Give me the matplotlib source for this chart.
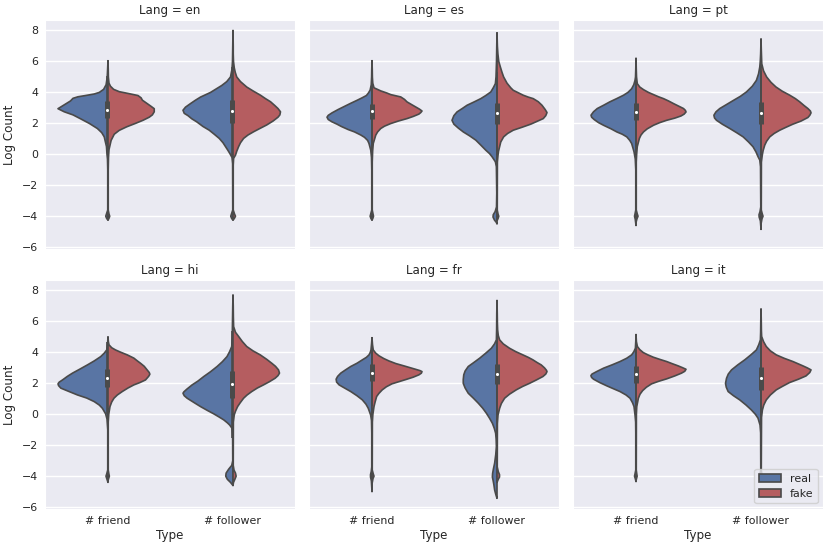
import numpy as np
import matplotlib
matplotlib.use('Agg')
import matplotlib.pyplot as plt
import seaborn as sns
from matplotlib.patches import Patch

langs = ['en', 'es', 'pt', 'hi', 'fr', 'it']
types = ['# friend', '# follower']
hues = ['real', 'fake']

# half-violin outlines: (log count, half width)
real_friend = {
    'en': [(6.05, 0), (5.5, 0.003), (5.0, 0.006), (4.5, 0.015), (4.2, 0.035), (4.0, 0.07), (3.9, 0.11),
           (3.8, 0.18), (3.72, 0.24), (3.62, 0.28), (3.45, 0.30), (3.2, 0.35), (2.95, 0.40), (2.75, 0.35),
           (2.55, 0.28), (2.3, 0.22), (2.0, 0.15), (1.67, 0.085), (1.4, 0.05), (1.13, 0.03), (0.5, 0.012),
           (0.0, 0.008), (-0.3, 0.004), (-1.0, 0.002), (-3.6, 0.002), (-3.85, 0.012), (-4.0, 0.018),
           (-4.15, 0.01), (-4.25, 0)],
    'es': [(6.05, 0), (5.5, 0.002), (5.0, 0.003), (4.5, 0.006), (4.15, 0.015), (3.95, 0.03), (3.8, 0.045),
           (3.65, 0.08), (3.49, 0.12), (3.3, 0.17), (3.1, 0.22), (2.9, 0.27), (2.68, 0.32), (2.52, 0.35),
           (2.4, 0.36), (2.25, 0.35), (2.1, 0.32), (1.95, 0.28), (1.8, 0.245), (1.6, 0.19), (1.45, 0.14),
           (1.25, 0.09), (1.1, 0.06), (0.9, 0.035), (0.7, 0.024), (0.27, 0.01), (-0.2, 0.004), (-1.0, 0.002),
           (-3.6, 0.002), (-3.85, 0.01), (-4.0, 0.015), (-4.15, 0.008), (-4.25, 0)],
    'pt': [(6.2, 0), (5.5, 0.002), (5.0, 0.004), (4.78, 0.008), (4.5, 0.018), (4.24, 0.035), (4.0, 0.065),
           (3.82, 0.10), (3.6, 0.155), (3.39, 0.21), (3.17, 0.26), (2.96, 0.31), (2.75, 0.34), (2.53, 0.36),
           (2.4, 0.355), (2.25, 0.335), (2.05, 0.30), (1.88, 0.26), (1.65, 0.20), (1.45, 0.154), (1.3, 0.11),
           (1.13, 0.074), (0.9, 0.05), (0.7, 0.035), (0.17, 0.016), (-0.3, 0.006), (-1.0, 0.002),
           (-3.6, 0.002), (-3.85, 0.008), (-4.0, 0.012), (-4.2, 0.006), (-4.6, 0)],
    'hi': [(5.0, 0), (4.6, 0.003), (4.16, 0.01), (3.95, 0.03), (3.73, 0.058), (3.45, 0.11), (3.19, 0.165),
           (2.92, 0.225), (2.66, 0.284), (2.45, 0.325), (2.22, 0.364), (2.08, 0.39), (1.97, 0.40),
           (1.85, 0.395), (1.69, 0.377), (1.5, 0.32), (1.25, 0.244), (1.05, 0.17), (0.82, 0.11), (0.6, 0.07),
           (0.39, 0.045), (0.03, 0.019), (-0.3, 0.008), (-1.0, 0.002), (-3.6, 0.002), (-3.85, 0.01),
           (-4.0, 0.016), (-4.2, 0.008), (-4.4, 0)],
    'fr': [(4.95, 0), (4.6, 0.003), (4.16, 0.008), (4.0, 0.014), (3.84, 0.024), (3.68, 0.045), (3.52, 0.077),
           (3.3, 0.12), (3.09, 0.17), (2.88, 0.21), (2.66, 0.25), (2.45, 0.275), (2.27, 0.287), (2.08, 0.283),
           (1.9, 0.263), (1.7, 0.22), (1.47, 0.17), (1.2, 0.12), (0.93, 0.077), (0.65, 0.048), (0.39, 0.03),
           (-0.04, 0.011), (-0.4, 0.004), (-1.2, 0.002), (-3.4, 0.002), (-3.7, 0.006), (-3.9, 0.012),
           (-4.05, 0.012), (-4.3, 0.005), (-5.0, 0)],
    'it': [(5.15, 0), (4.7, 0.002), (4.27, 0.005), (4.05, 0.017), (3.84, 0.035), (3.62, 0.075), (3.41, 0.128),
           (3.2, 0.19), (2.98, 0.26), (2.76, 0.315), (2.6, 0.352), (2.5, 0.361), (2.38, 0.355), (2.27, 0.34),
           (2.05, 0.29), (1.84, 0.234), (1.65, 0.18), (1.47, 0.128), (1.25, 0.08), (1.04, 0.048), (0.75, 0.028),
           (0.5, 0.016), (-0.04, 0.008), (-0.5, 0.003), (-1.2, 0.002), (-3.6, 0.002), (-3.85, 0.008),
           (-4.0, 0.012), (-4.15, 0.006), (-4.35, 0)],
}

fake_friend = {
    'en': [(6.05, 0), (5.5, 0.002), (5.0, 0.003), (4.6, 0.008), (4.4, 0.02), (4.2, 0.045), (4.05, 0.09),
           (3.92, 0.17), (3.8, 0.24), (3.65, 0.265), (3.5, 0.275), (3.3, 0.31), (3.1, 0.345), (2.95, 0.37),
           (2.75, 0.37), (2.55, 0.355), (2.4, 0.33), (2.2, 0.28), (2.0, 0.22), (1.78, 0.15), (1.55, 0.09),
           (1.3, 0.05), (0.9, 0.025), (0.3, 0.008), (-0.2, 0.004), (-1.0, 0.002), (-3.6, 0.002),
           (-3.85, 0.008), (-4.0, 0.014), (-4.15, 0.007), (-4.25, 0)],
    'es': [(6.05, 0), (5.5, 0.002), (5.0, 0.003), (4.6, 0.006), (4.3, 0.016), (4.1, 0.07), (3.96, 0.12),
           (3.86, 0.15), (3.71, 0.23), (3.55, 0.26), (3.39, 0.28), (3.2, 0.32), (3.06, 0.35), (2.92, 0.38),
           (2.8, 0.40), (2.7, 0.39), (2.6, 0.375), (2.45, 0.33), (2.31, 0.28), (2.15, 0.21), (1.99, 0.15),
           (1.82, 0.10), (1.67, 0.07), (1.45, 0.045), (1.24, 0.03), (0.7, 0.01), (0.2, 0.005), (-0.5, 0.002),
           (-3.6, 0.002), (-3.85, 0.008), (-4.0, 0.012), (-4.15, 0.006), (-4.25, 0)],
    'pt': [(6.2, 0), (5.5, 0.002), (5.0, 0.004), (4.57, 0.01), (4.35, 0.03), (4.18, 0.06), (4.0, 0.10),
           (3.86, 0.14), (3.72, 0.18), (3.6, 0.22), (3.45, 0.26), (3.28, 0.30), (3.12, 0.34), (2.96, 0.38),
           (2.84, 0.395), (2.74, 0.40), (2.6, 0.385), (2.48, 0.36), (2.34, 0.31), (2.2, 0.245), (2.05, 0.19),
           (1.88, 0.14), (1.65, 0.09), (1.45, 0.06), (1.25, 0.04), (1.03, 0.027), (0.5, 0.01), (0.0, 0.005),
           (-0.5, 0.002), (-3.6, 0.002), (-3.85, 0.01), (-4.0, 0.016), (-4.15, 0.008), (-4.4, 0)],
    'hi': [(5.0, 0), (4.7, 0.003), (4.49, 0.008), (4.3, 0.03), (4.16, 0.06), (4.0, 0.105), (3.84, 0.154),
           (3.63, 0.207), (3.45, 0.235), (3.3, 0.26), (3.1, 0.29), (2.87, 0.313), (2.7, 0.33), (2.59, 0.335),
           (2.45, 0.325), (2.22, 0.30), (2.05, 0.255), (1.9, 0.207), (1.7, 0.16), (1.47, 0.114), (1.25, 0.075),
           (1.04, 0.048), (0.8, 0.03), (0.5, 0.016), (0.0, 0.006), (-0.5, 0.002), (-3.6, 0.002),
           (-3.85, 0.007), (-4.0, 0.011), (-4.15, 0.005), (-4.3, 0)],
    'fr': [(4.95, 0), (4.5, 0.004), (4.16, 0.01), (3.95, 0.03), (3.78, 0.056), (3.6, 0.095), (3.45, 0.135),
           (3.28, 0.19), (3.13, 0.255), (3.0, 0.31), (2.91, 0.348), (2.82, 0.385), (2.76, 0.40), (2.66, 0.395),
           (2.55, 0.375), (2.4, 0.33), (2.27, 0.28), (2.12, 0.22), (1.97, 0.16), (1.78, 0.115), (1.58, 0.082),
           (1.35, 0.055), (1.15, 0.037), (0.8, 0.025), (0.5, 0.016), (0.0, 0.007), (-0.5, 0.003),
           (-3.6, 0.002), (-3.85, 0.01), (-4.0, 0.016), (-4.15, 0.008), (-4.5, 0)],
    'it': [(5.15, 0), (4.7, 0.003), (4.38, 0.011), (4.18, 0.03), (3.99, 0.058), (3.84, 0.095), (3.69, 0.138),
           (3.55, 0.19), (3.41, 0.245), (3.27, 0.29), (3.13, 0.337), (3.02, 0.37), (2.91, 0.40), (2.78, 0.39),
           (2.66, 0.364), (2.48, 0.31), (2.29, 0.245), (2.13, 0.18), (1.97, 0.125), (1.75, 0.083),
           (1.53, 0.053), (1.3, 0.032), (1.04, 0.019), (0.5, 0.006), (0.0, 0.003), (-3.6, 0.002),
           (-3.85, 0.006), (-4.0, 0.009), (-4.15, 0.004), (-4.3, 0)],
}

real_follower = {
    'en': [(8.0, 0), (7.0, 0.002), (6.0, 0.004), (5.5, 0.008), (5.0, 0.02), (4.7, 0.05), (4.45, 0.09),
           (4.2, 0.14), (4.0, 0.18), (3.7, 0.26), (3.5, 0.30), (3.28, 0.34), (3.05, 0.38), (2.85, 0.40),
           (2.65, 0.39), (2.5, 0.36), (2.3, 0.33), (2.1, 0.29), (1.8, 0.24), (1.56, 0.19), (1.3, 0.15),
           (1.03, 0.11), (0.75, 0.08), (0.5, 0.06), (0.25, 0.04), (0.05, 0.025), (-0.2, 0.008), (-0.6, 0.003),
           (-3.6, 0.002), (-3.85, 0.012), (-4.0, 0.018), (-4.15, 0.01), (-4.25, 0)],
    'es': [(7.85, 0), (7.0, 0.002), (6.0, 0.004), (5.0, 0.008), (4.57, 0.013), (4.3, 0.03), (4.03, 0.05),
           (3.8, 0.09), (3.6, 0.13), (3.4, 0.18), (3.17, 0.24), (2.95, 0.28), (2.74, 0.32), (2.5, 0.345),
           (2.2, 0.36), (1.95, 0.345), (1.7, 0.31), (1.45, 0.27), (1.2, 0.22), (0.92, 0.17), (0.6, 0.13),
           (0.27, 0.09), (0.05, 0.06), (-0.15, 0.04), (-0.48, 0.013), (-0.8, 0.005), (-2.5, 0.002),
           (-3.4, 0.004), (-3.7, 0.015), (-3.9, 0.03), (-4.05, 0.032), (-4.25, 0.02), (-4.4, 0.005),
           (-4.5, 0)],
    'pt': [(7.45, 0), (6.5, 0.003), (6.0, 0.006), (5.64, 0.01), (5.2, 0.02), (4.78, 0.037), (4.4, 0.07),
           (4.03, 0.117), (3.75, 0.165), (3.49, 0.22), (3.2, 0.28), (2.96, 0.33), (2.75, 0.36), (2.53, 0.377),
           (2.35, 0.372), (2.2, 0.356), (1.95, 0.31), (1.67, 0.25), (1.4, 0.195), (1.13, 0.143), (0.8, 0.10),
           (0.49, 0.064), (0.15, 0.04), (-0.15, 0.024), (-0.37, 0.01), (-0.8, 0.004), (-3.4, 0.002),
           (-3.7, 0.008), (-3.9, 0.016), (-4.05, 0.015), (-4.3, 0.005), (-4.85, 0)],
    'hi': [(7.7, 0), (7.0, 0.002), (6.0, 0.004), (5.0, 0.006), (4.38, 0.01), (4.05, 0.027), (3.73, 0.048),
           (3.4, 0.085), (3.09, 0.127), (2.75, 0.18), (2.44, 0.234), (2.15, 0.28), (1.9, 0.327), (1.62, 0.37),
           (1.45, 0.393), (1.36, 0.40), (1.2, 0.39), (1.04, 0.367), (0.75, 0.31), (0.5, 0.26), (0.25, 0.205),
           (0.03, 0.154), (-0.18, 0.11), (-0.36, 0.074), (-0.55, 0.045), (-0.69, 0.027), (-0.9, 0.008),
           (-1.3, 0.003), (-3.0, 0.002), (-3.3, 0.01), (-3.55, 0.035), (-3.8, 0.055), (-4.0, 0.058),
           (-4.2, 0.045), (-4.4, 0.02), (-4.6, 0)],
    'fr': [(7.35, 0), (6.5, 0.002), (5.5, 0.003), (4.81, 0.005), (4.55, 0.02), (4.27, 0.045), (3.95, 0.09),
           (3.63, 0.138), (3.35, 0.185), (3.09, 0.23), (2.8, 0.255), (2.55, 0.266), (2.25, 0.27), (2.0, 0.27),
           (1.7, 0.255), (1.36, 0.23), (1.05, 0.19), (0.72, 0.15), (0.4, 0.115), (0.07, 0.085), (-0.25, 0.06),
           (-0.58, 0.037), (-0.9, 0.022), (-1.22, 0.011), (-1.6, 0.007), (-2.08, 0.005), (-2.6, 0.01),
           (-3.16, 0.019), (-3.5, 0.028), (-3.81, 0.035), (-4.05, 0.037), (-4.24, 0.032), (-4.55, 0.025),
           (-4.89, 0.019), (-5.2, 0.009), (-5.43, 0)],
    'it': [(6.8, 0), (6.0, 0.002), (5.3, 0.003), (4.81, 0.005), (4.5, 0.018), (4.16, 0.037), (3.85, 0.08),
           (3.52, 0.13), (3.2, 0.185), (2.87, 0.236), (2.6, 0.262), (2.33, 0.276), (2.0, 0.284), (1.75, 0.278),
           (1.47, 0.263), (1.2, 0.22), (0.93, 0.17), (0.6, 0.12), (0.28, 0.077), (0.0, 0.045), (-0.25, 0.024),
           (-0.69, 0.008), (-1.2, 0.003), (-3.6, 0.002), (-3.85, 0.008), (-4.0, 0.012), (-4.15, 0.006),
           (-4.3, 0)],
}

fake_follower = {
    'en': [(8.0, 0), (7.0, 0.002), (6.5, 0.002), (6.0, 0.004), (5.6, 0.01), (5.3, 0.018), (5.0, 0.03),
           (4.7, 0.06), (4.35, 0.11), (4.1, 0.16), (3.82, 0.22), (3.6, 0.26), (3.4, 0.30), (3.15, 0.335),
           (2.96, 0.36), (2.75, 0.38), (2.55, 0.375), (2.4, 0.36), (2.15, 0.32), (1.9, 0.27), (1.65, 0.21),
           (1.46, 0.165), (1.25, 0.12), (1.03, 0.085), (0.75, 0.06), (0.5, 0.045), (0.2, 0.03), (-0.05, 0.02),
           (-0.26, 0.005), (-0.7, 0.002), (-3.6, 0.002), (-3.85, 0.012), (-4.0, 0.02), (-4.15, 0.01),
           (-4.25, 0)],
    'es': [(7.85, 0), (7.0, 0.003), (6.5, 0.007), (6.0, 0.014), (5.64, 0.027), (5.3, 0.04), (5.0, 0.053),
           (4.6, 0.08), (4.3, 0.11), (4.14, 0.13), (3.98, 0.17), (3.82, 0.21), (3.7, 0.25), (3.6, 0.29),
           (3.4, 0.33), (3.17, 0.36), (2.9, 0.385), (2.7, 0.40), (2.5, 0.39), (2.31, 0.37), (2.13, 0.32),
           (1.95, 0.27), (1.75, 0.20), (1.56, 0.13), (1.35, 0.085), (1.13, 0.053), (0.8, 0.03), (0.5, 0.021),
           (0.2, 0.012), (-0.05, 0.008), (-0.5, 0.003), (-3.6, 0.002), (-3.85, 0.008), (-4.0, 0.014),
           (-4.15, 0.008), (-4.3, 0)],
    'pt': [(7.45, 0), (6.8, 0.002), (6.3, 0.004), (5.85, 0.006), (5.4, 0.02), (5.0, 0.045), (4.65, 0.08),
           (4.35, 0.12), (4.08, 0.17), (3.82, 0.23), (3.6, 0.275), (3.39, 0.31), (3.15, 0.345), (2.96, 0.375),
           (2.8, 0.395), (2.68, 0.40), (2.52, 0.39), (2.38, 0.375), (2.15, 0.32), (1.95, 0.255), (1.75, 0.20),
           (1.56, 0.15), (1.35, 0.105), (1.13, 0.07), (0.85, 0.045), (0.6, 0.03), (0.25, 0.017), (-0.05, 0.01),
           (-0.5, 0.003), (-3.6, 0.002), (-3.85, 0.01), (-4.0, 0.016), (-4.15, 0.008), (-4.5, 0)],
    'hi': [(7.7, 0), (7.0, 0.002), (6.3, 0.003), (5.67, 0.005), (5.3, 0.02), (5.03, 0.045), (4.7, 0.075),
           (4.38, 0.11), (4.1, 0.16), (3.84, 0.218), (3.55, 0.27), (3.3, 0.31), (3.1, 0.34), (2.87, 0.364),
           (2.66, 0.372), (2.5, 0.36), (2.33, 0.337), (2.1, 0.29), (1.9, 0.244), (1.7, 0.195), (1.47, 0.15),
           (1.25, 0.113), (1.04, 0.085), (0.75, 0.058), (0.5, 0.037), (0.2, 0.02), (-0.04, 0.01),
           (-0.5, 0.003), (-3.3, 0.002), (-3.6, 0.008), (-3.8, 0.02), (-4.0, 0.025), (-4.2, 0.015),
           (-4.4, 0.004), (-4.6, 0)],
    'fr': [(7.35, 0), (6.5, 0.002), (5.9, 0.003), (5.46, 0.005), (5.1, 0.01), (4.81, 0.021), (4.55, 0.05),
           (4.27, 0.10), (4.05, 0.15), (3.84, 0.207), (3.68, 0.25), (3.52, 0.287), (3.35, 0.32), (3.19, 0.354),
           (3.0, 0.38), (2.85, 0.395), (2.76, 0.40), (2.6, 0.39), (2.44, 0.367), (2.22, 0.315), (2.0, 0.26),
           (1.8, 0.205), (1.58, 0.154), (1.3, 0.10), (1.04, 0.061), (0.7, 0.035), (0.39, 0.021),
           (-0.04, 0.008), (-0.6, 0.003), (-3.4, 0.002), (-3.7, 0.01), (-3.9, 0.02), (-4.05, 0.02),
           (-4.2, 0.01), (-4.4, 0)],
    'it': [(6.8, 0), (6.0, 0.002), (5.4, 0.003), (5.03, 0.005), (4.7, 0.02), (4.38, 0.042), (4.1, 0.075),
           (3.84, 0.122), (3.62, 0.185), (3.41, 0.255), (3.27, 0.295), (3.13, 0.335), (3.0, 0.37), (2.87, 0.40),
           (2.7, 0.39), (2.48, 0.36), (2.27, 0.30), (2.05, 0.228), (1.8, 0.17), (1.58, 0.122), (1.25, 0.075),
           (0.93, 0.042), (0.6, 0.022), (0.28, 0.011), (-0.2, 0.004), (-3.6, 0.002), (-3.85, 0.006),
           (-4.0, 0.009), (-4.15, 0.004), (-4.3, 0)],
}

# inner box per violin: (q1, median, q3, lower whisker, upper whisker)
box_friend = {
    'en': (2.3, 2.85, 3.4, 0.65, 5.05),
    'es': (2.25, 2.74, 3.24, 0.77, 4.72),
    'pt': (2.16, 2.72, 3.28, 0.48, 4.96),
    'hi': (1.75, 2.33, 2.91, 0.01, 4.65),
    'fr': (2.12, 2.66, 3.19, 0.52, 4.8),
    'it': (1.97, 2.55, 3.09, 0.29, 4.77),
}
box_follower = {
    'en': (2.0, 2.74, 3.45, -0.2, 5.6),
    'es': (1.95, 2.63, 3.28, -0.05, 5.28),
    'pt': (1.95, 2.63, 3.32, -0.1, 5.38),
    'hi': (1.04, 1.9, 2.76, -1.54, 5.34),
    'fr': (1.9, 2.55, 3.19, -0.04, 5.13),
    'it': (1.53, 2.33, 3.04, -0.74, 5.3),
}

sns.set_style('darkgrid')
plt.rcParams['font.family'] = ['DejaVu Sans']

blue = sns.desaturate('#4C72B0', 0.75)
red = sns.desaturate('#C44E52', 0.75)
gray = '#4a4a4a'
lw = 1.2

fig, axes = plt.subplots(2, 3, figsize=(8.3, 5.49), dpi=100, sharex=True, sharey=True)
fig.subplots_adjust(left=0.0542, right=0.9916, bottom=0.0729, top=0.9636, wspace=0.056, hspace=0.135)

groups = [(real_friend, fake_friend, box_friend), (real_follower, fake_follower, box_follower)]

for ax, lang in zip(axes.flat, langs):
    for pos, (real, fake, box) in enumerate(groups):
        y, w = np.array(real[lang]).T
        ax.fill_betweenx(y, pos - w, pos, facecolor=blue, edgecolor=gray, lw=lw, zorder=1)
        y, w = np.array(fake[lang]).T
        ax.fill_betweenx(y, pos, pos + w, facecolor=red, edgecolor=gray, lw=lw, zorder=1)
        q1, med, q3, lo, hi = box[lang]
        ax.plot([pos, pos], [lo, hi], color=gray, lw=lw, solid_capstyle='butt', zorder=2)
        ax.plot([pos, pos], [q1, q3], color=gray, lw=lw * 3, solid_capstyle='butt', zorder=2)
        ax.scatter([pos], [med], s=5, color='white', lw=0, zorder=3)

    ax.set_xlim(-0.5, 1.5)
    ax.set_ylim(-6.15, 8.65)
    ax.set_xticks([0, 1])
    ax.set_xticklabels(types)
    ax.set_yticks(range(-6, 9, 2))
    ax.xaxis.grid(False)
    ax.yaxis.grid(True, color='white', lw=1.0)
    ax.tick_params(labelsize=7.9, pad=5, length=0)
    ax.set_title(f'Lang = {lang}', fontsize=8.6, pad=4)

for ax in axes[:, 0]:
    ax.set_ylabel('Log Count', fontsize=8.6)
for ax in axes[1, :]:
    ax.set_xlabel('Type', fontsize=8.6, labelpad=2)

handles = [Patch(facecolor=blue, edgecolor=gray, lw=lw, label=hues[0]),
           Patch(facecolor=red, edgecolor=gray, lw=lw, label=hues[1])]
axes[1, 2].legend(handles=handles, loc='lower right', fontsize=7.9)

fig.savefig('out.png', dpi=100)
